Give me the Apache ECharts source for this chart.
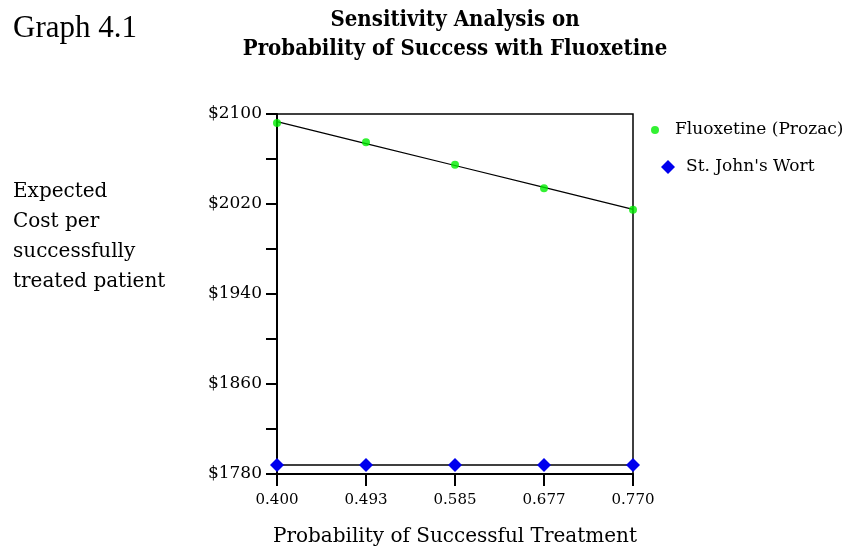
<!DOCTYPE html>
<html><head><meta charset="utf-8">
<script src="https://cdn.jsdelivr.net/npm/echarts@6/dist/echarts.min.js"></script>
<style>html,body{margin:0;padding:0;background:#fff}#c{width:859px;height:556px}</style>
</head><body><div id="c"></div>
<script>
const categories = ['0.400','0.493','0.585','0.677','0.770'];
const fluoxetine = [2092, 2075, 2055, 2034, 2015];
const stJohnsWort = [1788, 1788, 1788, 1788, 1788];
const yTicks = [1780, 1860, 1940, 2020, 2100];

// least-squares trend line through the fluoxetine points
const n = fluoxetine.length;
const xs = categories.map(Number);
const mx = xs.reduce((a,b)=>a+b,0)/n, my = fluoxetine.reduce((a,b)=>a+b,0)/n;
let sxy=0,sxx=0; for(let i=0;i<n;i++){sxy+=(xs[i]-mx)*(fluoxetine[i]-my);sxx+=(xs[i]-mx)**2;}
const slope=sxy/sxx, icpt=my-slope*mx;
const trend = xs.map(x=>icpt+slope*x);

const slab = 'DejaVu Serif';
const chart = echarts.init(document.getElementById('c'));
chart.setOption({
  backgroundColor:'#fff',
  animation:false,
  grid:{left:277,top:114,width:356,height:360,show:true,borderColor:'#000',borderWidth:1.5,backgroundColor:'transparent'},
  xAxis:{type:'category',data:categories,boundaryGap:false,
    axisLine:{lineStyle:{color:'#000',width:2}},
    axisTick:{alignWithLabel:true,length:12,lineStyle:{color:'#000',width:2}},
    axisLabel:{color:'#000',fontFamily:slab,fontSize:15,margin:19},
    splitLine:{show:false}},
  yAxis:{type:'value',min:1780,max:2100,interval:40,
    axisLine:{show:true,lineStyle:{color:'#000',width:2}},
    axisTick:{show:true,length:11,lineStyle:{color:'#000',width:2}},
    axisLabel:{color:'#000',fontFamily:slab,fontSize:17,margin:15,
      formatter:v=>yTicks.includes(v)?'$'+v:''},
    splitLine:{show:false}},
  legend:[
    {left:646,top:115,itemWidth:30,itemHeight:8,
     textStyle:{fontFamily:slab,fontSize:17,color:'#000',lineHeight:20},
     data:[{name:'Fluoxetine (Prozac)',icon:'circle'}]},
    {left:656,top:152,itemWidth:14,itemHeight:14,
     textStyle:{fontFamily:slab,fontSize:17,color:'#000',lineHeight:20,padding:[0,0,0,6]},
     data:[{name:"St. John's Wort",icon:'diamond'}]}
  ],
  graphic:[
    {type:'text',left:13,top:13,style:{text:'Graph 4.1',font:'31px "Liberation Serif"',fill:'#000'}},
    {type:'text',x:455,y:20,style:{text:'Sensitivity Analysis on',font:'bold 22px "DejaVu Serif Condensed", "DejaVu Serif"',fill:'#000',textAlign:'center',textVerticalAlign:'middle'}},
    {type:'text',x:455,y:49,style:{text:'Probability of Success with Fluoxetine',font:'bold 22px "DejaVu Serif Condensed", "DejaVu Serif"',fill:'#000',textAlign:'center',textVerticalAlign:'middle'}},
    {type:'text',left:13,top:177,style:{text:'Expected\nCost per\nsuccessfully\ntreated patient',font:'20px "DejaVu Serif"',lineHeight:30,fill:'#000'}},
    {type:'text',x:455,y:537,style:{text:'Probability of Successful Treatment',font:'20px "DejaVu Serif"',fill:'#000',textAlign:'center',textVerticalAlign:'middle'}}
  ],
  series:[
    {name:'trend',type:'line',data:trend,symbol:'none',silent:true,z:1,lineStyle:{color:'#000',width:1.2}},
    {name:'Fluoxetine (Prozac)',type:'scatter',data:fluoxetine,symbol:'circle',symbolSize:8,itemStyle:{color:'#00ee00'},z:3},
    {name:"St. John's Wort",type:'line',data:stJohnsWort,symbol:'diamond',symbolSize:14,showSymbol:true,
      itemStyle:{color:'#0000ee'},lineStyle:{color:'#000',width:1.5},z:3}
  ]
});
</script></body></html>
